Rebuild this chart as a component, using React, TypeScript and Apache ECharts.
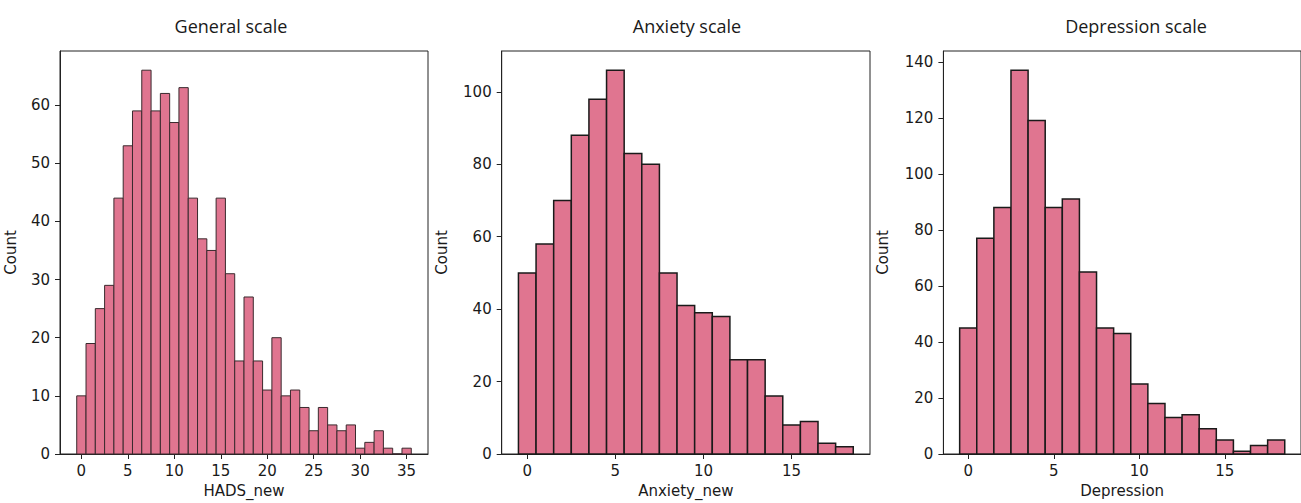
import React, { useEffect, useRef } from "react";
import * as echarts from "echarts";

// ---- Data ----
const generalBins = [0,1,2,3,4,5,6,7,8,9,10,11,12,13,14,15,16,17,18,19,20,21,22,23,24,25,26,27,28,29,30,31,32,33,34,35];
const generalCounts = [10,19,25,29,44,53,59,66,59,62,57,63,44,37,35,44,31,16,27,16,11,20,10,11,8,4,8,5,4,5,1,2,4,1,0,1];

const anxietyBins = [0,1,2,3,4,5,6,7,8,9,10,11,12,13,14,15,16,17,18];
const anxietyCounts = [50,58,70,88,98,106,83,80,50,41,39,38,26,26,16,8,9,3,2];

const depressionBins = [0,1,2,3,4,5,6,7,8,9,10,11,12,13,14,15,16,17,18];
const depressionCounts = [45,77,88,137,119,88,91,65,45,43,25,18,13,14,9,5,1,3,5];

const titles = ["General scale", "Anxiety scale", "Depression scale"];
const xNames = ["HADS_new", "Anxiety_new", "Depression"];
const yName = "Count";

const generalXTicks = [0,5,10,15,20,25,30,35];
const smallXTicks = [0,5,10,15];
const generalYTicks = [0,10,20,30,40,50,60];
const anxietyYTicks = [0,20,40,60,80,100];
const depressionYTicks = [0,20,40,60,80,100,120,140];

export default function App() {
  const ref = useRef<HTMLDivElement>(null);

  useEffect(() => {
    if (!ref.current) return;
    const chart = echarts.init(ref.current, null, { renderer: "svg" });

    const FONT = "'DejaVu Sans', DejaVuSans, sans-serif";
    const axisColor = "#222";
    const grids = [
      { left: 60, top: 51, width: 368, height: 406 },
      { left: 501.7, top: 51, width: 368.3, height: 406 },
      { left: 943.4, top: 51, width: 368.3, height: 406 },
    ];
    const xRanges = [
      [-2.3, 37.3],
      [-1.45, 19.45],
      [-1.45, 19.45],
    ];
    const yMax = [
      Math.max(...generalCounts) * 1.05,
      Math.max(...anxietyCounts) * 1.05,
      Math.max(...depressionCounts) * 1.05,
    ];
    const xTicks = [generalXTicks, smallXTicks, smallXTicks];
    const yTicks = [generalYTicks, anxietyYTicks, depressionYTicks];
    const yNameGaps = [42, 52, 53];
    const datasets = [
      { bins: generalBins, counts: generalCounts, lw: 1, stroke: "#3a2a2e" },
      { bins: anxietyBins, counts: anxietyCounts, lw: 1.5, stroke: "#1a1a1a" },
      { bins: depressionBins, counts: depressionCounts, lw: 1.5, stroke: "#1a1a1a" },
    ];
    const titleX = [231, 687, 1136];

    const option: any = {
      animation: false,
      backgroundColor: "#ffffff",
      graphic: titleX.map((x, i) => ({
        type: "text",
        x,
        y: 26,
        style: {
          text: titles[i],
          font: "18px 'Open Sans'",
          fill: "#1a1a1a",
          textAlign: "center",
          textVerticalAlign: "middle",
        },
      })),
      grid: grids.map((g) => ({
        ...g,
        show: true,
        borderColor: axisColor,
        borderWidth: 1,
        backgroundColor: "transparent",
        containLabel: false,
      })),
      xAxis: grids.map((_, i) => ({
        type: "value",
        gridIndex: i,
        min: xRanges[i][0],
        max: xRanges[i][1],
        name: xNames[i],
        nameLocation: "middle",
        nameGap: 29,
        nameTextStyle: { fontFamily: FONT, fontSize: 15, color: "#1a1a1a" },
        axisLine: { show: true, onZero: false, lineStyle: { color: axisColor, width: 1 } },
        axisTick: { show: true, inside: false, length: 5, customValues: xTicks[i], lineStyle: { color: axisColor } },
        axisLabel: { customValues: xTicks[i], fontFamily: FONT, fontSize: 15, color: "#1a1a1a", margin: 9 },
        splitLine: { show: false },
      })),
      yAxis: grids.map((_, i) => ({
        type: "value",
        gridIndex: i,
        min: 0,
        max: yMax[i],
        name: yName,
        nameLocation: "middle",
        nameGap: yNameGaps[i],
        nameTextStyle: { fontFamily: FONT, fontSize: 15, color: "#1a1a1a" },
        axisLine: { show: true, onZero: false, lineStyle: { color: axisColor, width: 1 } },
        axisTick: { show: true, inside: false, length: 5, customValues: yTicks[i], lineStyle: { color: axisColor } },
        axisLabel: { customValues: yTicks[i], fontFamily: FONT, fontSize: 15, color: "#1a1a1a", margin: 10 },
        splitLine: { show: false },
      })),
      series: datasets.map((d, i) => ({
        type: "custom",
        xAxisIndex: i,
        yAxisIndex: i,
        clip: false,
        encode: { x: 0, y: 1 },
        data: d.bins.map((b, k) => [b, d.counts[k]]),
        renderItem: (params: any, api: any) => {
          const x = api.value(0);
          const y = api.value(1);
          const p0 = api.coord([x - 0.5, 0]);
          const p1 = api.coord([x + 0.5, y]);
          return {
            type: "rect",
            shape: { x: p0[0], y: p1[1], width: p1[0] - p0[0], height: p0[1] - p1[1] },
            style: { fill: "#e07590", stroke: d.stroke, lineWidth: d.lw },
          };
        },
      })),
    };

    chart.setOption(option);
    return () => chart.dispose();
  }, []);

  return (
    <div
      ref={ref}
      style={{ position: "fixed", left: 0, top: 0, width: 1301, height: 503, background: "#fff" }}
    />
  );
}
